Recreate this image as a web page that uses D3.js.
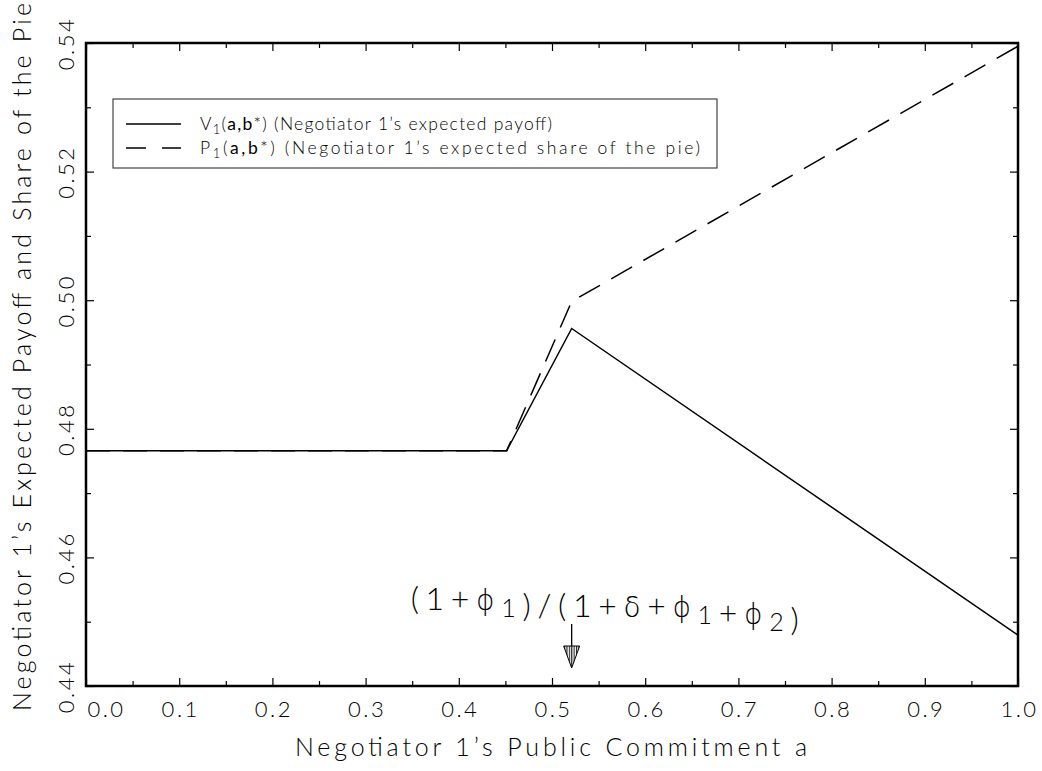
<!DOCTYPE html>
<html>
<head>
<meta charset="utf-8">
<script src="https://cdn.jsdelivr.net/npm/d3@7"></script>
<style>
    body { margin: 0; background: #fff; }
    svg text { font-family: Lato, Roboto, "DejaVu Sans", sans-serif; font-weight: 300; fill: #000; }
    .greek { font-family: "DejaVu Sans", sans-serif; font-weight: 200; }
</style>
</head>
<body>
<svg id="chart" width="1042" height="771"></svg>
<script>
// values
const commitment = [0, 0.4514, 0.5211, 1.0]
const expectedPayoff = [0.4766, 0.4766, 0.4956, 0.4479]
const expectedShare = [0.4766, 0.4766, 0.4998, 0.5395]

const xTickValues = [0, 0.1, 0.2, 0.3, 0.4, 0.5, 0.6, 0.7, 0.8, 0.9, 1.0]
const xMinorTicks = [0.05, 0.15, 0.25, 0.35, 0.45, 0.55, 0.65, 0.75, 0.85, 0.95]
const yTickValues = [0.44, 0.46, 0.48, 0.50, 0.52, 0.54]
const yMinorTicks = [0.45, 0.47, 0.49, 0.51, 0.53]

const arrowAt = 0.5211

const svg = d3.select('#chart')
const margin = { top: 43, right: 24, bottom: 85, left: 86 }
const width = 1042, height = 771
const plotW = width - margin.left - margin.right
const plotH = height - margin.top - margin.bottom

const x = d3.scaleLinear().domain([0, 1]).range([margin.left, margin.left + plotW])
const y = d3.scaleLinear().domain([0.44, 0.54]).range([margin.top + plotH, margin.top])

// hatch pattern for the arrow head
svg.append('defs').append('pattern')
    .attr('id', 'hatch')
    .attr('patternUnits', 'userSpaceOnUse')
    .attr('width', 2.4).attr('height', 10)
    .append('line')
    .attr('x1', 0.6).attr('x2', 0.6).attr('y1', 0).attr('y2', 10)
    .attr('stroke', '#000').attr('stroke-width', 1)

// ticks on all four sides, pointing inwards
function tickAxis(axis, values, size, translate) {
    const g = svg.append('g')
        .attr('transform', translate)
        .call(axis.tickValues(values).tickSize(-size).tickFormat(''))
    g.select('.domain').remove()
    g.selectAll('line').attr('stroke', '#000').attr('stroke-width', 1.2)
    return g
}

const bottomY = margin.top + plotH
const rightX = margin.left + plotW

tickAxis(d3.axisBottom(x), xMinorTicks, 5, `translate(0,${bottomY})`)
tickAxis(d3.axisTop(x), xMinorTicks, 5, `translate(0,${margin.top})`)
tickAxis(d3.axisTop(x), xTickValues, 8, `translate(0,${margin.top})`)
tickAxis(d3.axisLeft(y), yMinorTicks, 5, `translate(${margin.left},0)`)
tickAxis(d3.axisRight(y), yMinorTicks, 5, `translate(${rightX},0)`)
tickAxis(d3.axisRight(y), yTickValues, 8, `translate(${rightX},0)`)

// bottom axis with labels
const xAxisG = svg.append('g')
    .attr('transform', `translate(0,${bottomY})`)
    .call(d3.axisBottom(x).tickValues(xTickValues).tickSize(-8).tickPadding(15)
        .tickFormat(d3.format('.1f')))
xAxisG.select('.domain').remove()
xAxisG.selectAll('line').attr('stroke', '#000').attr('stroke-width', 1.2)
xAxisG.selectAll('text')
    .attr('font-size', 22)
    .attr('letter-spacing', 2.5)
    .attr('fill', '#000')
    .attr('dx', d => d === 0 ? 20 : 1)

// left axis with rotated labels
const yAxisG = svg.append('g')
    .attr('transform', `translate(${margin.left},0)`)
    .call(d3.axisLeft(y).tickValues(yTickValues).tickSize(-8).tickFormat(d3.format('.2f')))
yAxisG.select('.domain').remove()
yAxisG.selectAll('line').attr('stroke', '#000').attr('stroke-width', 1.2)
yAxisG.selectAll('text')
    .attr('x', 0).attr('dy', 0)
    .attr('text-anchor', 'middle')
    .attr('transform', 'translate(-12,0) rotate(-90)')
    .attr('font-size', 22)
    .attr('letter-spacing', 2.5)
    .attr('fill', '#000')

// frame
svg.append('rect')
    .attr('x', margin.left).attr('y', margin.top)
    .attr('width', plotW).attr('height', plotH)
    .attr('fill', 'none').attr('stroke', '#000').attr('stroke-width', 2.5)

// lines
const line = d3.line()
    .x((d, i) => x(commitment[i]))
    .y(d => y(d))

svg.append('path')
    .datum(expectedShare)
    .attr('d', line)
    .attr('fill', 'none').attr('stroke', '#000').attr('stroke-width', 1.5)
    .attr('stroke-dasharray', '24,13')

svg.append('path')
    .datum(expectedPayoff)
    .attr('d', line)
    .attr('fill', 'none').attr('stroke', '#000').attr('stroke-width', 1.5)

// legend
const legend = svg.append('g')
legend.append('rect')
    .attr('x', 113).attr('y', 99).attr('width', 604).attr('height', 69)
    .attr('fill', '#fff').attr('stroke', '#444').attr('stroke-width', 1.2)

const legendItems = [
    { sym: 'V', rest: ' (Negotiator 1\u2019s expected payoff)', dash: null, len: 352 },
    { sym: 'P', rest: ' (Negotiator 1\u2019s expected share of the pie)', dash: '20,16', len: 500 }
]
legendItems.forEach((item, i) => {
    const ly = 124 + i * 24
    legend.append('line')
        .attr('x1', 126).attr('x2', 181).attr('y1', ly).attr('y2', ly)
        .attr('stroke', '#000').attr('stroke-width', 1.3)
        .attr('stroke-dasharray', item.dash)
    const t = legend.append('text')
        .attr('x', 200).attr('y', ly + 6)
        .attr('font-size', 17.5)
        .attr('textLength', item.len).attr('lengthAdjust', 'spacing')
    t.append('tspan').text(item.sym)
    t.append('tspan').attr('dy', 4).attr('font-size', 13).text('1')
    t.append('tspan').attr('dy', -4).text('(')
    t.append('tspan').attr('font-weight', 400).text('a,b')
    t.append('tspan').text('*)' + item.rest)
})

// annotation with arrow
const ax = x(arrowAt)
const ann = svg.append('text')
    .attr('x', ax - 161).attr('y', 610)
    .attr('font-size', 32)
    .attr('textLength', 388).attr('lengthAdjust', 'spacing')
const parts = [['(1+', '\u03D5', '1'], [')/(1+', '\u03B4', null], ['+', '\u03D5', '1'], ['+', '\u03D5', '2'], [')', null, null]]
parts.forEach(([main, greek, sub]) => {
    ann.append('tspan').text(main)
    if (greek) ann.append('tspan').attr('class', 'greek').attr('font-size', 28).text(greek)
    if (sub) {
        ann.append('tspan').attr('dy', 7).attr('font-size', 25).text(sub)
        ann.append('tspan').attr('dy', -7).text('')
    }
})

svg.append('line')
    .attr('x1', ax).attr('x2', ax).attr('y1', 624).attr('y2', 646)
    .attr('stroke', '#000').attr('stroke-width', 1.3)
svg.append('path')
    .attr('d', `M${ax - 8},646 L${ax + 8},646 L${ax},668 Z`)
    .attr('fill', 'url(#hatch)').attr('stroke', '#000').attr('stroke-width', 1)

// axis titles
svg.append('text')
    .attr('x', 551).attr('y', 756)
    .attr('text-anchor', 'middle')
    .attr('font-size', 25)
    .attr('textLength', 512).attr('lengthAdjust', 'spacing')
    .text('Negotiator 1\u2019s Public Commitment a')

svg.append('text')
    .attr('transform', 'translate(31,357) rotate(-90)')
    .attr('text-anchor', 'middle')
    .attr('font-size', 25)
    .attr('textLength', 708).attr('lengthAdjust', 'spacing')
    .text('Negotiator 1\u2019s Expected Payoff and Share of the Pie')
</script>
</body>
</html>
